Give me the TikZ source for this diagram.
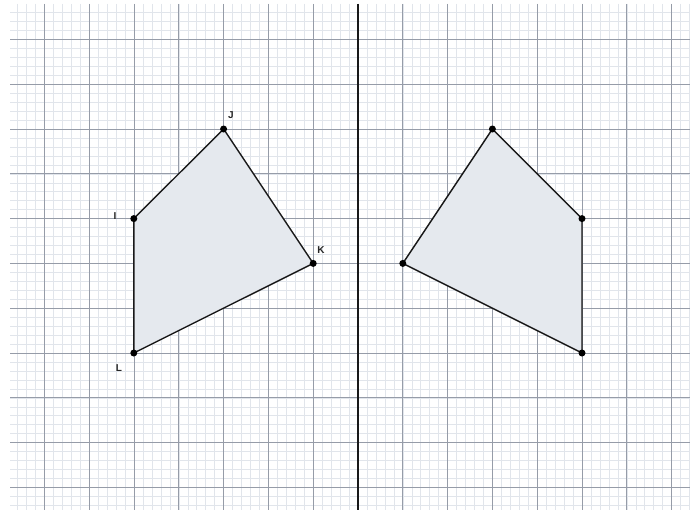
\documentclass[tikz,border=0pt]{standalone}
\usepackage{fontspec}
\setsansfont{Liberation Sans}
\definecolor{minorc}{RGB}{225,229,235}
\definecolor{majorc}{RGB}{150,156,168}
\definecolor{shadec}{RGB}{229,233,238}
\begin{document}
\begin{tikzpicture}[x=1pt,y=-1pt,
  minorline/.style={draw=minorc,line width=0.5pt},
  majorline/.style={draw=majorc,line width=0.8pt},
  edge/.style={draw=black!90,line width=1.4pt},
  shade/.style={fill=shadec},
  vdot/.style={circle,fill=black,inner sep=0pt,minimum size=7pt},
  lab/.style={font=\sffamily\bfseries\fontsize{10}{11}\selectfont,text=black!85}]
\useasboundingbox (0,0) rectangle (695,516);
\fill[white] (0,0) rectangle (695,516);
% minor grid
\foreach \m in {-38,...,37} \draw[minorline] ({358+8.96*\m},4) -- ({358+8.96*\m},510);
\foreach \m in {-13,...,42} \draw[minorline] (10,{129+8.96*\m}) -- (690,{129+8.96*\m});
% major grid
\foreach \k in {-7,...,7} \draw[majorline] ({358+44.8*\k},4) -- ({358+44.8*\k},510);
\foreach \k in {-2,...,8} \draw[majorline] (10,{129+44.8*\k}) -- (690,{129+44.8*\k});
% points
\coordinate (I) at (133.8,218.6);
\coordinate (J) at (223.6,129);
\coordinate (K) at (313.2,263.4);
\coordinate (L) at (133.8,353);
\coordinate (I2) at (582,218.6);
\coordinate (J2) at (492.4,129);
\coordinate (K2) at (402.8,263.4);
\coordinate (L2) at (582,353);
\fill[shade] (I) -- (J) -- (K) -- (L) -- cycle;
\fill[shade] (I2) -- (J2) -- (K2) -- (L2) -- cycle;
% mirror line
\coordinate (mt) at (358,4);
\coordinate (mb) at (358,510);
\draw[black!90,line width=2pt] (mt) -- (mb);
\draw[edge,line join=round] (I) -- (J) -- (K) -- (L) -- cycle;
\draw[edge,line join=round] (I2) -- (J2) -- (K2) -- (L2) -- cycle;
\foreach \p in {I,J,K,L,I2,J2,K2,L2} \node[vdot] (d\p) at (\p) {};
\node[lab] (tJ) at (231,115) {J};
\node[lab] (tI) at (115,216) {I};
\node[lab] (tK) at (321,250) {K};
\node[lab] (tL) at (119,368) {L};
\end{tikzpicture}
\end{document}
